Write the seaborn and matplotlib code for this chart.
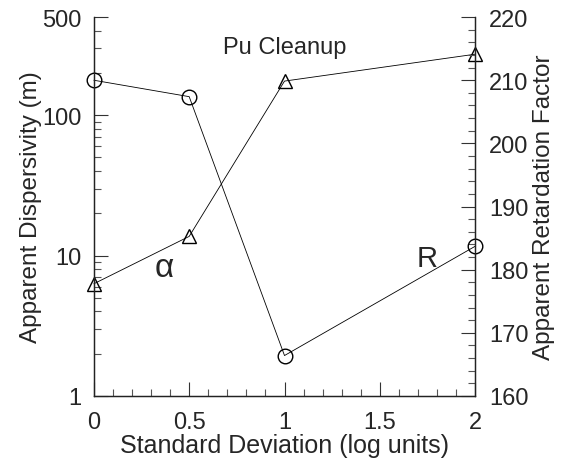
import numpy as np
import pandas as pd
import seaborn as sns
import matplotlib
matplotlib.use("Agg")
import matplotlib.pyplot as plt
from matplotlib.ticker import FixedLocator, FixedFormatter, MultipleLocator

# Pu cleanup: apparent dispersivity (alpha) and retardation factor (R)
std_dev = [0.0, 0.5, 1.0, 2.0]
dispersivity = [6.3, 13.7, 175.0, 272.0]
retardation = [210.0, 207.4, 166.4, 183.7]

left_ticks = [1, 10, 100, 500]
left_tick_labels = ["1", "10", "100", "500"]
x_ticks = [0, 0.5, 1, 1.5, 2]
x_tick_labels = ["0", "0.5", "1", "1.5", "2"]
right_ticks = [160, 170, 180, 190, 200, 210, 220]

df = pd.DataFrame({"sd": std_dev, "alpha": dispersivity, "R": retardation})

sns.set_style("ticks")
plt.rcParams["font.family"] = ["Liberation Sans", "DejaVu Sans"]

fig = plt.figure(figsize=(5.69, 4.64), dpi=100)
ax = fig.add_axes([0.165, 0.1445, 0.67, 0.8165])
ax2 = ax.twinx()

line_kw = dict(color="black", linewidth=0.6, markersize=10.5,
               markerfacecolor="none", markeredgecolor="black",
               markeredgewidth=1.0, clip_on=False)

sns.lineplot(data=df, x="sd", y="alpha", marker="^", ax=ax, **line_kw)
sns.lineplot(data=df, x="sd", y="R", marker="o", ax=ax2, **line_kw)

ax.set_yscale("log")
ax.set_ylim(1, 500)
ax.set_xlim(0, 2)
ax2.set_ylim(160, 220)

ax.yaxis.set_major_locator(FixedLocator(left_ticks))
ax.yaxis.set_major_formatter(FixedFormatter(left_tick_labels))
minor = [m * d for d in (1, 10) for m in range(2, 10)] + [200, 300, 400]
ax.yaxis.set_minor_locator(FixedLocator(minor))
ax.yaxis.set_minor_formatter(FixedFormatter([""] * len(minor)))

ax.xaxis.set_major_locator(FixedLocator(x_ticks))
ax.xaxis.set_major_formatter(FixedFormatter(x_tick_labels))
ax.xaxis.set_minor_locator(MultipleLocator(0.1))

ax2.yaxis.set_major_locator(FixedLocator(right_ticks))
ax2.yaxis.set_minor_locator(MultipleLocator(2))

for a in (ax, ax2):
    a.tick_params(which="major", direction="in", length=10, width=0.8,
                  labelsize=17, pad=9, color="#333333")
    a.tick_params(which="minor", direction="in", length=5, width=0.8,
                  color="#555555")
    for side in ("left", "right", "bottom"):
        a.spines[side].set_linewidth(0.9)
        a.spines[side].set_color("#222222")
    a.spines["top"].set_visible(False)
ax.tick_params(axis="x", pad=11)
ax2.tick_params(axis="y", pad=10)

ax.set_xlabel("Standard Deviation (log units)", fontsize=18, labelpad=0)
ax.set_ylabel("Apparent Dispersivity (m)", fontsize=17.5, labelpad=0)
ax2.set_ylabel("Apparent Retardation Factor", fontsize=17.5, labelpad=3)

ax.text(0.5, 0.92, "Pu Cleanup", transform=ax.transAxes, fontsize=17,
        ha="center", va="center")
ax.text(0.185, 0.34, "α", transform=ax.transAxes, fontsize=24,
        ha="center", va="center")
ax.text(0.875, 0.365, "R", transform=ax.transAxes, fontsize=21,
        ha="center", va="center")

fig.savefig("out.png", dpi=100)
